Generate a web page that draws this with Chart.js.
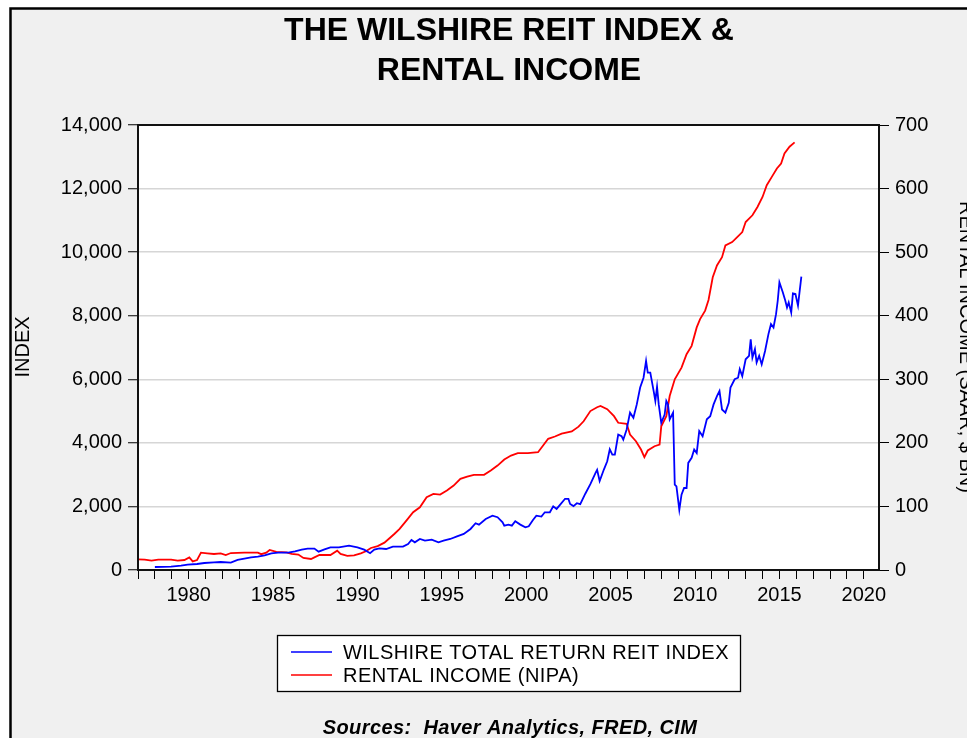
<!DOCTYPE html>
<html>
<head>
<meta charset="utf-8">
<script src="https://cdn.jsdelivr.net/npm/chart.js@4/dist/chart.umd.min.js"></script>
<style>
html,body{margin:0;padding:0;background:#fff;}
#wrap{width:967px;height:738px;position:relative;}
</style>
</head>
<body>
<div id="wrap"><canvas id="c" width="967" height="738"></canvas></div>
<script>
const titleLines = ["THE WILSHIRE REIT INDEX &", "RENTAL INCOME"];
const leftAxisTitle = "INDEX";
const rightAxisTitle = "RENTAL INCOME (SAAR, $ BN)";
const sourceText = "Sources:  Haver Analytics, FRED, CIM";
const reitLabel = "WILSHIRE TOTAL RETURN REIT INDEX";
const rentLabel = "RENTAL INCOME (NIPA)";

const xTickLabels = [1980, 1985, 1990, 1995, 2000, 2005, 2010, 2015, 2020];
const leftTicks = [0, 2000, 4000, 6000, 8000, 10000, 12000, 14000];
const rightTicks = [0, 100, 200, 300, 400, 500, 600, 700];

const reitYears = [1978.0,1978.96,1979.55,1979.94,1980.5,1980.93,1981.5,1981.9,1982.5,1982.9,1983.3,1983.7,1984.1,1984.5,1984.9,1985.3,1985.9,1986.3,1986.7,1987.05,1987.45,1987.7,1988.05,1988.4,1988.9,1989.5,1990.0,1990.4,1990.75,1991.0,1991.3,1991.7,1992.1,1992.7,1993.0,1993.2,1993.4,1993.7,1994.0,1994.4,1994.8,1995.1,1995.5,1995.9,1996.3,1996.7,1997.0,1997.2,1997.6,1998.0,1998.3,1998.6,1998.7,1998.95,1999.15,1999.35,1999.65,1999.95,2000.15,2000.4,2000.6,2000.9,2001.1,2001.4,2001.6,2001.8,2002.0,2002.3,2002.5,2002.6,2002.8,2003.0,2003.2,2003.5,2003.8,2004.1,2004.2,2004.35,2004.6,2004.8,2004.95,2005.1,2005.25,2005.45,2005.65,2005.75,2005.95,2006.15,2006.35,2006.55,2006.75,2006.95,2007.1,2007.2,2007.35,2007.55,2007.65,2007.75,2007.85,2008.0,2008.2,2008.3,2008.4,2008.5,2008.7,2008.8,2008.9,2009.07,2009.2,2009.35,2009.5,2009.6,2009.8,2009.95,2010.1,2010.25,2010.45,2010.7,2010.9,2011.1,2011.3,2011.45,2011.6,2011.8,2012.0,2012.1,2012.35,2012.55,2012.65,2012.8,2013.0,2013.2,2013.3,2013.4,2013.55,2013.65,2013.8,2013.95,2014.15,2014.35,2014.5,2014.65,2014.8,2014.9,2015.0,2015.2,2015.35,2015.45,2015.55,2015.7,2015.8,2015.95,2016.1,2016.3];
const reitValues = [95,105,135,167,189,220,241,252,231,315,357,399,420,462,525,546,546,588,640,672,672,577,651,714,714,766,714,640,530,640,683,661,735,735,819,945,871,976,924,955,871,924,976,1060,1134,1291,1470,1428,1606,1711,1660,1500,1396,1428,1396,1533,1428,1344,1375,1575,1711,1680,1816,1816,2005,1921,2048,2240,2236,2079,2010,2100,2070,2400,2700,3050,3150,2800,3160,3420,3800,3630,3630,4260,4210,4100,4420,4950,4790,5210,5740,6050,6580,6210,6210,5630,5320,5760,5210,4630,4890,5320,5210,4740,4950,2685,2630,1890,2370,2580,2580,3370,3530,3790,3680,4370,4210,4740,4840,5210,5470,5630,5050,4950,5260,5740,6000,6050,6320,6100,6630,6740,7260,6680,6950,6530,6740,6470,6890,7420,7740,7630,8050,8470,9050,8740,8470,8260,8420,8100,8700,8680,8320,9230];

const rentYears = [1977.0,1977.4,1977.8,1978.2,1978.96,1979.35,1979.75,1980.04,1980.24,1980.5,1980.73,1981.1,1981.5,1981.9,1982.2,1982.5,1983.3,1984.1,1984.3,1984.6,1984.8,1985.2,1985.8,1986.1,1986.5,1986.8,1987.25,1987.45,1987.75,1988.4,1988.8,1989.0,1989.4,1989.8,1990.2,1990.5,1990.8,1991.2,1991.6,1991.9,1992.2,1992.5,1992.9,1993.3,1993.7,1994.1,1994.5,1994.9,1995.3,1995.7,1996.1,1996.5,1996.9,1997.5,1997.9,1998.3,1998.7,1999.1,1999.5,2000.1,2000.7,2001.0,2001.3,2001.7,2002.1,2002.7,2003.1,2003.4,2003.8,2004.2,2004.4,2004.8,2005.2,2005.45,2005.95,2006.15,2006.5,2006.8,2007.0,2007.2,2007.6,2007.9,2008.0,2008.3,2008.5,2008.8,2009.2,2009.5,2009.8,2010.1,2010.3,2010.6,2010.8,2011.05,2011.3,2011.6,2011.8,2012.2,2012.5,2012.8,2013.0,2013.4,2013.7,2014.0,2014.25,2014.55,2014.85,2015.1,2015.3,2015.6,2015.9];
const rentValues = [16.7,16.2,14.7,16.2,16.2,14.7,15.7,19.9,13.6,15.7,27.3,26.2,25.2,26.2,23.6,26.7,27.3,27.3,24.9,27.3,31.5,28.4,27.8,25.2,24.2,19,17.3,19.9,23.6,23.6,30.4,25.2,22.1,23.1,26.2,29.4,34.6,37.5,43,50,57,64.6,77.7,90.8,98.7,114.4,119.7,118.7,125,132.8,143.4,147,149.7,149.7,156.5,164.3,173.8,180,183.7,183.7,185.3,195.9,206.4,210,214.5,218,225.5,234,250,256,258,253,242,231.6,230,213,202.6,189.5,177.4,188,194.7,197.4,226,242,273.7,300,318.4,339.5,352.6,381.6,394.7,408,424.7,460.5,479,492,510.5,515.8,523.7,531.6,547.4,558,571,586.8,605.3,618.4,631.6,639.5,655.3,665.8,672.6];

const FONT = "'Liberation Sans', Arial, Helvetica, sans-serif";
const W = 967, H = 738;

const deco = {
  id: 'deco',
  beforeDraw(chart) {
    const ctx = chart.ctx, a = chart.chartArea;
    ctx.save();
    ctx.fillStyle = '#ffffff';
    ctx.fillRect(0, 0, W, H);
    ctx.fillStyle = '#f0f0f0';
    ctx.fillRect(10, 8, W - 10, H - 8);
    ctx.fillStyle = '#ffffff';
    ctx.fillRect(a.left, a.top, a.right - a.left, a.bottom - a.top);
    ctx.restore();
  },
  afterDraw(chart) {
    const ctx = chart.ctx, a = chart.chartArea;
    ctx.save();
    // outer frame
    ctx.strokeStyle = '#000';
    ctx.lineWidth = 2.5;
    ctx.beginPath();
    ctx.moveTo(10.5, H);
    ctx.lineTo(10.5, 8.5);
    ctx.lineTo(W, 8.5);
    ctx.stroke();
    // plot frame
    ctx.lineWidth = 2;
    ctx.strokeStyle = '#111';
    ctx.strokeRect(a.left, a.top, a.right - a.left, a.bottom - a.top);
    // title
    ctx.fillStyle = '#000';
    ctx.textAlign = 'center';
    ctx.textBaseline = 'alphabetic';
    ctx.font = 'bold 32px ' + FONT;
    ctx.fillText(titleLines[0], 509, 40);
    ctx.fillText(titleLines[1], 509, 80);
    // axis titles
    ctx.font = '20px ' + FONT;
    ctx.textBaseline = 'middle';
    ctx.save();
    ctx.translate(23, 347);
    ctx.rotate(-Math.PI / 2);
    ctx.fillText(leftAxisTitle, 0, 0);
    ctx.restore();
    ctx.save();
    ctx.translate(966, 347);
    ctx.rotate(Math.PI / 2);
    ctx.fillText(rightAxisTitle, 0, 0);
    ctx.restore();
    // legend
    const ds = chart.data.datasets;
    ctx.fillStyle = '#fff';
    ctx.fillRect(277.5, 635.5, 463, 56);
    ctx.strokeStyle = '#000';
    ctx.lineWidth = 1.3;
    ctx.strokeRect(277.5, 635.5, 463, 56);
    const rows = [652, 675];
    ds.forEach((d, i) => {
      ctx.strokeStyle = d.borderColor;
      ctx.lineWidth = 1.5;
      ctx.beginPath();
      ctx.moveTo(291, rows[i]);
      ctx.lineTo(332, rows[i]);
      ctx.stroke();
      ctx.fillStyle = '#000';
      ctx.textAlign = 'left';
      ctx.textBaseline = 'middle';
      ctx.font = '20px ' + FONT;
      try { ctx.letterSpacing = '0.45px'; } catch (e) {}
      ctx.fillText(d.label, 343, rows[i] + 1);
      try { ctx.letterSpacing = '0px'; } catch (e) {}
    });
    // source
    ctx.fillStyle = '#000';
    ctx.textAlign = 'center';
    ctx.textBaseline = 'alphabetic';
    ctx.font = 'italic bold 20px ' + FONT;
    try { ctx.letterSpacing = '0.4px'; } catch (e) {}
    ctx.fillText(sourceText, 510, 734);
    ctx.restore();
  }
};

const reitData = reitYears.map((x, i) => ({ x: x, y: reitValues[i] }));
const rentData = rentYears.map((x, i) => ({ x: x, y: rentValues[i] }));

new Chart(document.getElementById('c'), {
  type: 'line',
  data: {
    datasets: [
      { label: reitLabel, data: reitData, yAxisID: 'y', borderColor: '#0000ff', borderWidth: 1.8, pointRadius: 0, tension: 0, fill: false },
      { label: rentLabel, data: rentData, yAxisID: 'y2', borderColor: '#ff0000', borderWidth: 1.8, pointRadius: 0, tension: 0, fill: false }
    ]
  },
  options: {
    responsive: false,
    animation: false,
    devicePixelRatio: 1,
    layout: { padding: { top: 125, left: 0, right: 0, bottom: 0 } },
    plugins: { legend: { display: false }, title: { display: false }, tooltip: { enabled: false } },
    scales: {
      x: {
        type: 'linear', position: 'bottom', min: 1977, max: 2020.9,
        afterFit(s) { s.height = 168; },
        border: { display: false },
        grid: { drawOnChartArea: false, tickLength: 9, tickColor: '#000', tickWidth: 1 },
        ticks: {
          stepSize: 1, autoSkip: false, includeBounds: false, maxRotation: 0, padding: 4,
          color: '#000', font: { family: FONT, size: 20 },
          callback: (v) => xTickLabels.includes(v) ? String(v) : ''
        }
      },
      y: {
        type: 'linear', position: 'left', min: leftTicks[0], max: leftTicks[leftTicks.length - 1],
        afterFit(s) { s.width = 138; },
        border: { display: false },
        grid: { color: '#d6d6d6', lineWidth: 1.5, tickLength: 10, tickColor: '#000', tickWidth: 1 },
        ticks: {
          stepSize: 2000, padding: 6, color: '#000', font: { family: FONT, size: 20 },
          callback: (v) => v.toLocaleString('en-US')
        }
      },
      y2: {
        type: 'linear', position: 'right', min: rightTicks[0], max: rightTicks[rightTicks.length - 1],
        afterFit(s) { s.width = 88; },
        border: { display: false },
        grid: { drawOnChartArea: false, tickLength: 10, tickColor: '#000', tickWidth: 1 },
        ticks: { stepSize: 100, padding: 6, color: '#000', font: { family: FONT, size: 20 } }
      }
    }
  },
  plugins: [deco]
});
</script>
</body>
</html>
